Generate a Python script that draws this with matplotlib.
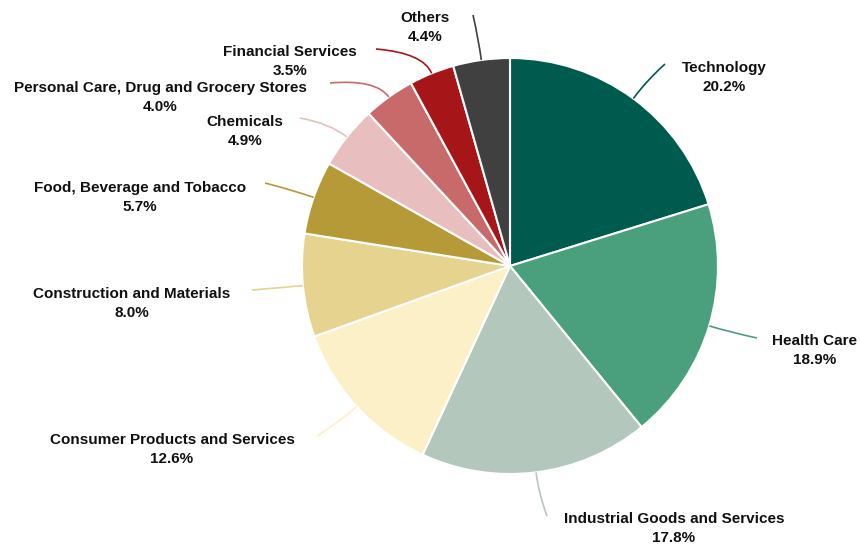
import numpy as np
import matplotlib
matplotlib.use("Agg")
import matplotlib.pyplot as plt
from matplotlib.path import Path
from matplotlib.patches import PathPatch

plt.rcParams['font.family'] = ['Liberation Sans', 'DejaVu Sans']

sectors = [
    "Technology", "Health Care", "Industrial Goods and Services",
    "Consumer Products and Services", "Construction and Materials",
    "Food, Beverage and Tobacco", "Chemicals",
    "Personal Care, Drug and Grocery Stores", "Financial Services", "Others",
]
shares = [20.2, 18.9, 17.8, 12.6, 8.0, 5.7, 4.9, 4.0, 3.5, 4.4]
colors = ["#005b4f", "#4aa07d", "#b3c7bc", "#fbf0c8", "#e5d38f",
          "#b59a37", "#e8bebe", "#c86a6a", "#a61618", "#404040"]

W, H = 860, 544
CX, CY, R = 510, 266, 208

# label layout (pixel coords, y downward): text centre x, first-line y, connector end
label_xy = [(724, 68), (815, 341), (674, 519), (172, 440), (132, 294),
            (140, 188), (245, 122), (160, 88), (290, 52), (425, 18)]
conn_end = [(665, 64), (757, 338), (547, 516), (317, 436), (252, 290),
            (265, 183), (300, 118), (330, 83), (376, 49), (473, 15)]

fig = plt.figure(figsize=(W / 100, H / 100), dpi=100)
ax = fig.add_axes([0, 0, 1, 1])
ax.axis("off")

ax.pie(shares, colors=colors, center=(CX, H - CY), radius=R,
       startangle=90, counterclock=False,
       wedgeprops=dict(edgecolor="white", linewidth=1.5))
ax.set_xlim(0, W)
ax.set_ylim(0, H)
ax.set_aspect("equal")

total = sum(shares)
cum = 0.0
for name, val, col, (lx, ly), (ex, ey) in zip(sectors, shares, colors, label_xy, conn_end):
    mid = (cum + val / 2) / total * 2 * np.pi
    cum += val
    sx, sy = CX + R * np.sin(mid), CY - R * np.cos(mid)
    kx, ky = CX + (R + 22) * np.sin(mid), CY - (R + 22) * np.cos(mid)
    path = Path([(sx, H - sy), (kx, H - ky), (ex, H - ey)],
                [Path.MOVETO, Path.CURVE3, Path.CURVE3])
    ax.add_patch(PathPatch(path, facecolor="none", edgecolor=col, lw=1.2))
    ax.text(lx, H - ly, name, ha="center", va="center",
            fontsize=11, fontweight="bold", color="#111111")
    ax.text(lx, H - ly - 19, f"{val:.1f}%", ha="center", va="center",
            fontsize=11, fontweight="bold", color="#111111")

fig.savefig("out.png", dpi=100)
